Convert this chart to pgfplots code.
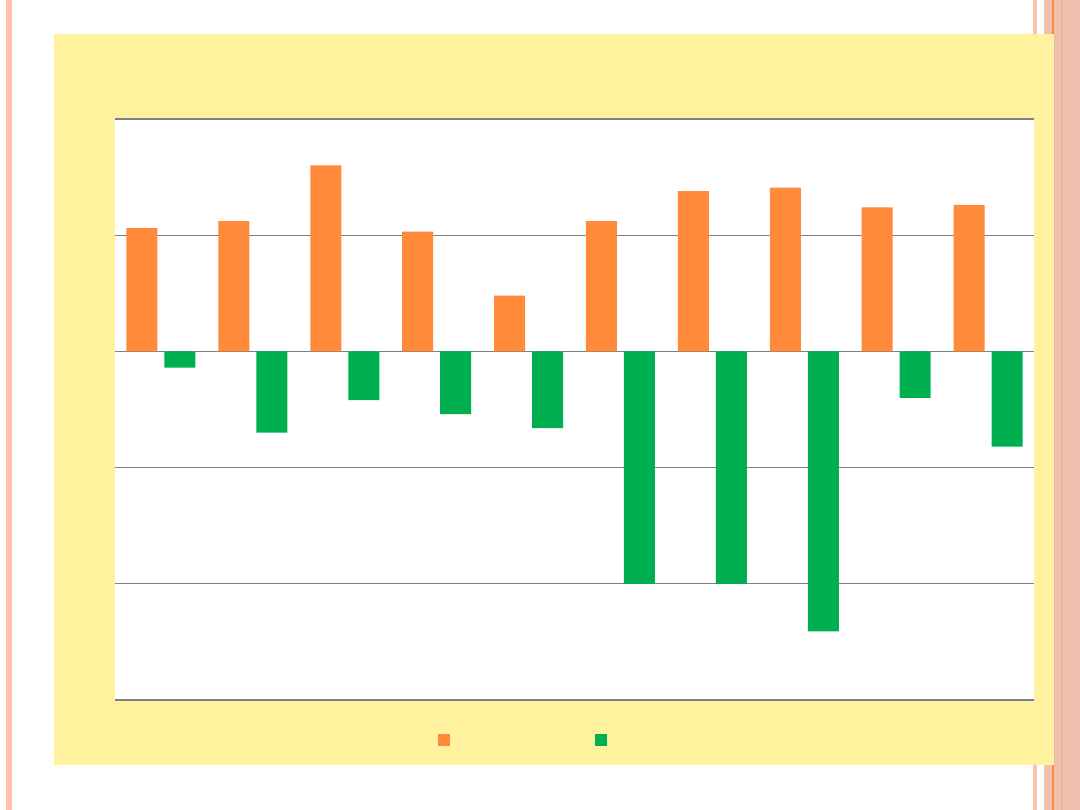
\documentclass[border=0pt]{standalone}
\usepackage{pgfplots}
\pgfplotsset{compat=1.18}
\definecolor{barorange}{HTML}{FF8A3A}
\definecolor{bargreen}{HTML}{00B050}
\definecolor{panelyellow}{HTML}{FFF29E}
\definecolor{stripepink}{HTML}{FFC0AE}
\definecolor{bandsalmon}{HTML}{F0BFAE}
\definecolor{bandline}{HTML}{ECB6A5}
\definecolor{gridgray}{HTML}{808080}
\begin{document}
\begin{tikzpicture}[x=1pt,y=1pt]
\useasboundingbox (0,0) rectangle (1080,810);
\fill[white] (0,0) rectangle (1080,810);
\fill[stripepink] (6,0) rectangle (12,810);
\fill[stripepink] (1033,0) rectangle (1037,810);
\fill[bandsalmon] (1044,0) rectangle (1080,810);
\fill[bandline] (1061,0) rectangle (1063,810);
\fill[barorange] (1052,0) rectangle (1054,810);
\fill[panelyellow] (54,45) rectangle (1054,776);
\fill[bandline] (1054,45) rectangle (1055,776);
\begin{axis}[
  at={(115pt,110pt)}, anchor=south west,
  scale only axis, width=919pt, height=581pt,
  xmin=0.5, xmax=10.5, ymin=-3, ymax=2,
  ytick={-3,...,2}, xtick=\empty, yticklabels={},
  major tick length=0pt,
  ymajorgrids, grid style={gridgray, line width=1.3pt},
  axis line style={draw=none},
  axis background/.style={fill=white},
  ybar=7pt, bar width=31pt,
  legend columns=2,
  legend style={draw=none, fill=none, at={(axis description cs:0.3515,-0.0688)}, anchor=west, inner sep=0pt, outer sep=0pt, /tikz/every even column/.append style={column sep=0pt}},
  legend image code/.code={\fill[#1] (0pt,-6pt) rectangle (12pt,6pt);},
]
\addplot[fill=barorange, draw=none] coordinates {(1,1.06) (2,1.12) (3,1.60) (4,1.03) (5,0.48) (6,1.12) (7,1.38) (8,1.41) (9,1.24) (10,1.26)};
\addplot[fill=bargreen, draw=none] coordinates {(1,-0.14) (2,-0.70) (3,-0.42) (4,-0.54) (5,-0.66) (6,-2.0) (7,-2.0) (8,-2.41) (9,-0.40) (10,-0.82)};
\legend{\hspace*{141pt}, \hspace*{1pt}}
\end{axis}
\end{tikzpicture}
\end{document}
